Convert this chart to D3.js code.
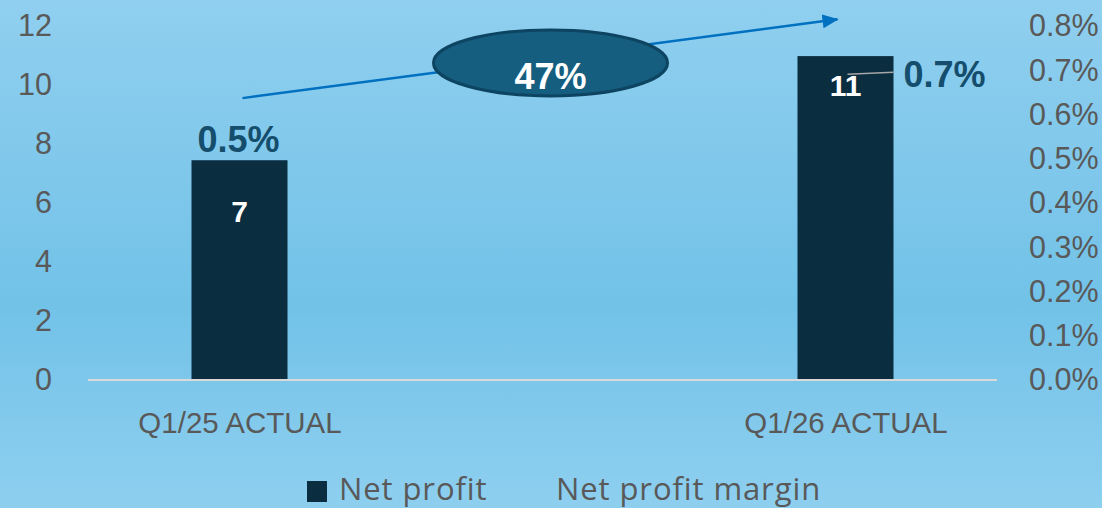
<!DOCTYPE html>
<html lang="en">

<head>
    <meta charset="UTF-8">
    <title>Net profit</title>
    <script src="https://cdn.jsdelivr.net/npm/d3@7/dist/d3.min.js"></script>
    <style>
        body { margin: 0; }
    </style>
</head>

<body>
    <div id="container"></div>

    <script>
        const width = 1102;
        const height = 508;

        const categories = ['Q1/25 ACTUAL', 'Q1/26 ACTUAL'];
        const netProfit = [7.45, 10.98];
        const netProfitLabels = ['7', '11'];
        const profitMargin = [0.005, 0.007];
        const leftTicks = [0, 2, 4, 6, 8, 10, 12];
        const rightTicks = [0, 0.001, 0.002, 0.003, 0.004, 0.005, 0.006, 0.007, 0.008];
        const growthLabel = '47%';
        const seriesNames = ['Net profit', 'Net profit margin'];

        const barColor = '#0b2d40';
        const textGray = '#595959';
        const font = '"Liberation Sans", Arial, sans-serif';

        const x = d3.scalePoint().domain(categories).range([88, 997]).padding(0.25);
        const y = d3.scaleLinear().domain([0, 12]).range([380, 26]);
        const yR = d3.scaleLinear().domain([0, 0.008]).range([380, 26]);
        const barWidth = 96;

        const svg = d3.select('#container').append('svg')
            .attr('width', width)
            .attr('height', height)
            .attr('font-family', font);

        const defs = svg.append('defs');
        const grad = defs.append('linearGradient')
            .attr('id', 'bg')
            .attr('x1', 0).attr('y1', 0).attr('x2', 0).attr('y2', 1);
        grad.append('stop').attr('offset', '0%').attr('stop-color', '#90cfef');
        grad.append('stop').attr('offset', '60%').attr('stop-color', '#72c2e8');
        grad.append('stop').attr('offset', '100%').attr('stop-color', '#8ecfef');

        defs.append('marker')
            .attr('id', 'arrow')
            .attr('viewBox', '0 -8 16 16')
            .attr('refX', 15)
            .attr('refY', 0)
            .attr('markerUnits', 'userSpaceOnUse')
            .attr('markerWidth', 16)
            .attr('markerHeight', 16)
            .attr('orient', 'auto')
            .append('path')
            .attr('d', 'M0,-7L16,0L0,7Z')
            .attr('fill', '#0070c0');

        svg.append('rect')
            .attr('width', width)
            .attr('height', height)
            .attr('fill', 'url(#bg)');

        // axes
        const leftAxis = svg.append('g')
            .attr('transform', 'translate(52,0)')
            .call(d3.axisLeft(y).tickValues(leftTicks).tickSize(0).tickPadding(0));
        const rightAxis = svg.append('g')
            .attr('transform', 'translate(1029,0)')
            .call(d3.axisRight(yR).tickValues(rightTicks).tickSize(0).tickPadding(0).tickFormat(d3.format('.1%')));
        const bottomAxis = svg.append('g')
            .attr('transform', `translate(0,${y(0)})`)
            .call(d3.axisBottom(x).tickSize(0).tickPadding(32));

        [leftAxis, rightAxis].forEach(g => {
            g.select('.domain').remove();
            g.selectAll('text')
                .attr('font-family', font)
                .attr('font-size', 30.5)
                .attr('fill', textGray);
        });
        bottomAxis.select('.domain').remove();
        bottomAxis.selectAll('text')
            .attr('font-family', font)
            .attr('font-size', 29.5)
            .attr('fill', textGray);

        // bars
        svg.append('g')
            .selectAll('rect')
            .data(categories)
            .join('rect')
            .attr('x', d => x(d) - barWidth / 2)
            .attr('y', (d, i) => y(netProfit[i]))
            .attr('width', barWidth)
            .attr('height', (d, i) => y(0) - y(netProfit[i]))
            .attr('fill', barColor);

        svg.append('line')
            .attr('x1', 88).attr('x2', 997)
            .attr('y1', y(0)).attr('y2', y(0))
            .attr('stroke', '#d9d9d9')
            .attr('stroke-width', 2);

        // bar value labels
        const labelDy = [62, 40];
        svg.append('g')
            .selectAll('text')
            .data(categories)
            .join('text')
            .attr('x', d => x(d))
            .attr('y', (d, i) => y(netProfit[i]) + labelDy[i])
            .attr('text-anchor', 'middle')
            .attr('font-size', 30)
            .attr('font-weight', 'bold')
            .attr('fill', '#fff')
            .text((d, i) => netProfitLabels[i]);

        // margin labels (line itself is not drawn)
        const c2 = categories[1];
        svg.append('line')
            .attr('x1', x(c2) + 2).attr('y1', yR(profitMargin[1]) + 4)
            .attr('x2', x(c2) + 48).attr('y2', yR(profitMargin[1]) + 2)
            .attr('stroke', '#a6a6a6')
            .attr('stroke-width', 1.5);

        svg.append('g')
            .selectAll('text')
            .data(categories)
            .join('text')
            .attr('x', (d, i) => i === 0 ? x(d) - 1 : x(d) + 58)
            .attr('y', (d, i) => i === 0 ? yR(profitMargin[i]) - 7 : yR(profitMargin[i]) + 17)
            .attr('text-anchor', (d, i) => i === 0 ? 'middle' : 'start')
            .attr('font-size', 36)
            .attr('font-weight', 'bold')
            .attr('fill', '#154e6c')
            .text((d, i) => d3.format('.1%')(profitMargin[i]));

        // growth arrow + bubble
        svg.append('line')
            .attr('x1', x(categories[0]) + 3).attr('y1', yR(0.00637))
            .attr('x2', x(c2) - 8).attr('y2', yR(0.00815))
            .attr('stroke', '#0070c0')
            .attr('stroke-width', 2.5)
            .attr('marker-end', 'url(#arrow)');

        const cx = (x(categories[0]) + x(c2)) / 2 + 8;
        const cy = y(10.75);
        svg.append('ellipse')
            .attr('cx', cx).attr('cy', cy)
            .attr('rx', 117).attr('ry', 33)
            .attr('fill', '#155e80')
            .attr('stroke', '#0d4461')
            .attr('stroke-width', 3);
        svg.append('text')
            .attr('x', cx)
            .attr('y', cy + 26)
            .attr('text-anchor', 'middle')
            .attr('font-size', 36)
            .attr('font-weight', 'bold')
            .attr('fill', '#fff')
            .text(growthLabel);

        // legend
        const legend = svg.append('g').attr('transform', 'translate(307,0)');
        legend.append('rect')
            .attr('x', 0).attr('y', 481)
            .attr('width', 20).attr('height', 21)
            .attr('fill', barColor);
        legend.selectAll('text')
            .data(seriesNames)
            .join('text')
            .attr('x', (d, i) => i === 0 ? 32 : 249)
            .attr('y', 500)
            .attr('font-family', '"Open Sans", sans-serif')
            .attr('font-size', 31)
            .attr('letter-spacing', 0.9)
            .attr('fill', textGray)
            .text(d => d);
    </script>
</body>

</html>
